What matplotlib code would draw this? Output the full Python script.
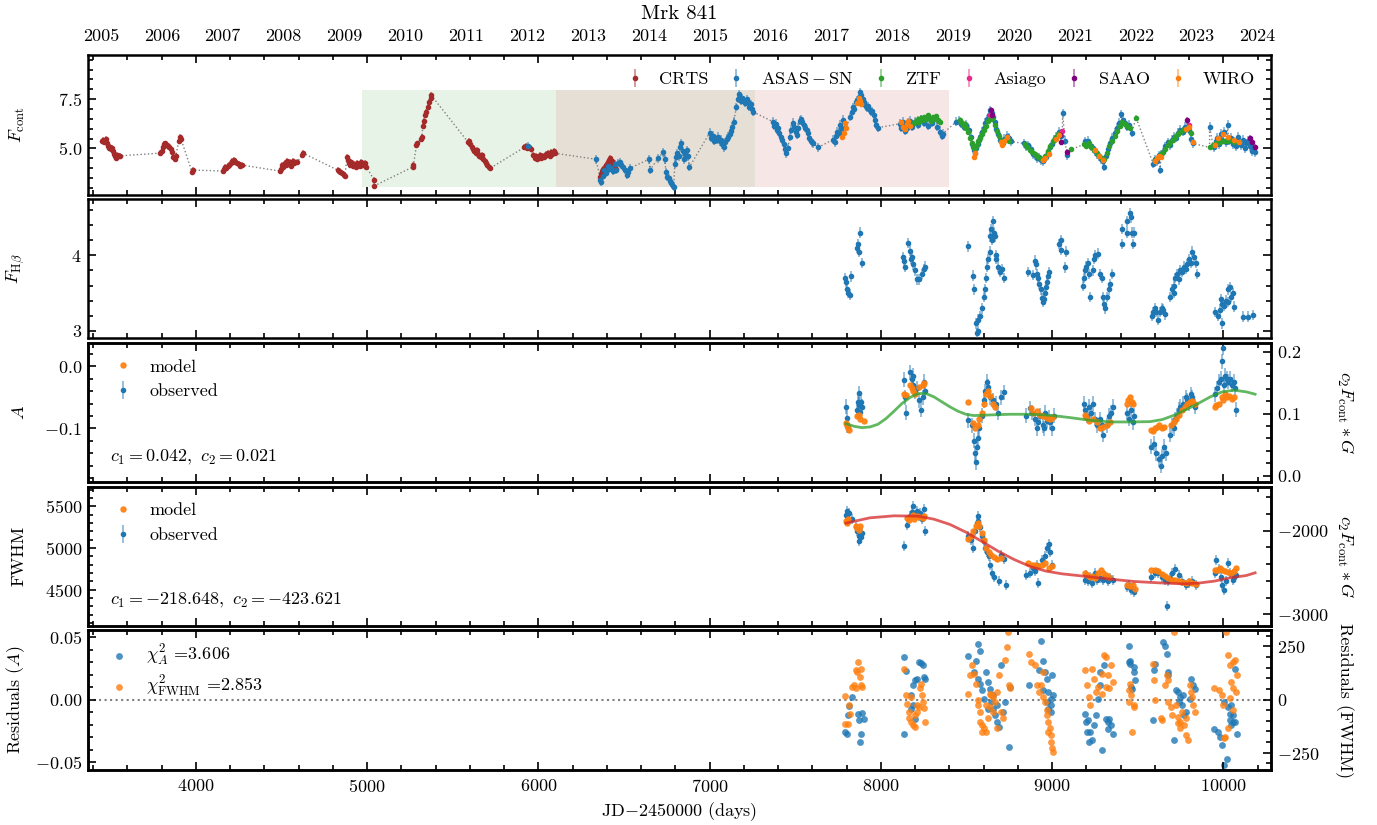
import numpy as np
import matplotlib
matplotlib.use('Agg')
import matplotlib.pyplot as plt
from matplotlib.ticker import MultipleLocator, AutoMinorLocator, FuncFormatter

matplotlib.rcParams['font.family'] = 'serif'
matplotlib.rcParams['font.serif'] = ['cmr10']
matplotlib.rcParams['mathtext.fontset'] = 'cm'
matplotlib.rcParams['axes.formatter.use_mathtext'] = True
matplotlib.rcParams['font.size'] = 13
matplotlib.rcParams['axes.linewidth'] = 1.8

# ---------------- continuum light curve (JD-2450000, F_cont) ----------------
crts = [(3452, 5.35), (3458, 5.45), (3463, 5.30), (3468, 5.40), (3474, 5.50), (3480, 5.25),
        (3486, 5.10), (3492, 5.00), (3498, 5.05), (3504, 4.95), (3510, 5.00), (3516, 4.85),
        (3522, 4.70), (3528, 4.60), (3534, 4.50), (3540, 4.65), (3548, 4.60), (3556, 4.62),
        (3791, 4.76), (3800, 4.85), (3808, 5.05), (3815, 5.20), (3822, 5.25), (3830, 5.15),
        (3838, 5.10), (3845, 5.05), (3852, 4.95), (3860, 4.80), (3868, 4.55), (3875, 4.45),
        (3882, 4.60), (3900, 5.40), (3906, 5.60), (3912, 5.50), (3976, 3.82), (3981, 3.90),
        (4156, 3.85), (4162, 3.95), (4170, 4.05), (4178, 4.00), (4186, 4.10), (4195, 4.15),
        (4205, 4.25), (4213, 4.35), (4222, 4.40), (4230, 4.30), (4240, 4.25), (4250, 4.20),
        (4260, 4.10), (4270, 4.15),
        (4490, 3.85), (4496, 3.95), (4503, 4.15), (4510, 4.05), (4518, 4.25), (4525, 4.15),
        (4533, 4.35), (4540, 4.20), (4548, 4.30), (4556, 4.10), (4565, 4.35), (4575, 4.25),
        (4590, 4.30), (4622, 4.68), (4628, 4.75),
        (4827, 3.90), (4833, 3.85), (4840, 3.80), (4855, 3.75), (4862, 3.65), (4870, 3.60),
        (4882, 4.55), (4886, 4.40), (4892, 4.25), (4900, 4.15), (4908, 4.30), (4916, 4.10),
        (4924, 4.20), (4932, 4.05), (4940, 4.25), (4948, 4.15), (4956, 4.10), (4966, 4.30),
        (4975, 4.15), (4985, 4.25), (4996, 4.05), (5040, 3.40), (5042, 3.10),
        (5265, 4.05), (5270, 4.15), (5288, 5.15), (5292, 5.25), (5315, 5.50), (5320, 5.60),
        (5325, 6.15), (5330, 6.40), (5340, 6.70), (5345, 6.85), (5355, 7.10), (5362, 7.35),
        (5370, 7.55), (5374, 7.70),
        (5591, 5.30), (5596, 5.40), (5602, 5.20), (5610, 5.05), (5618, 4.95), (5625, 4.85),
        (5633, 4.75), (5640, 4.90), (5648, 4.70), (5655, 4.60), (5662, 4.55), (5670, 4.65),
        (5678, 4.45), (5686, 4.35), (5694, 4.25), (5702, 4.15), (5712, 4.05), (5720, 4.00),
        (5917, 5.05), (5925, 5.10), (5933, 5.00), (5945, 5.05), (5955, 4.95),
        (5970, 4.65), (5978, 4.50), (5986, 4.60), (5994, 4.45), (6002, 4.55), (6010, 4.65),
        (6018, 4.50), (6026, 4.60), (6034, 4.55), (6042, 4.70), (6050, 4.65), (6058, 4.75),
        (6066, 4.60), (6074, 4.80), (6082, 4.70), (6090, 4.85), (6098, 4.75),
        (6360, 3.55), (6366, 3.70), (6372, 3.85), (6380, 3.95), (6388, 4.05), (6396, 4.15),
        (6404, 4.30), (6412, 4.40), (6420, 4.50), (6428, 4.35), (6436, 4.20), (6444, 4.10),
        (6452, 3.95)]

asassn = [(5937, 5.10), (6335, 4.45),
          (6360, 3.40), (6368, 3.30), (6375, 3.60), (6385, 3.90), (6395, 3.75), (6405, 4.10),
          (6415, 3.95), (6425, 4.00), (6435, 3.85), (6445, 4.20), (6455, 3.90), (6465, 4.25),
          (6475, 4.30), (6485, 4.15), (6495, 4.05), (6505, 3.90), (6515, 3.65), (6525, 3.80),
          (6535, 4.00),
          (6647, 4.45), (6652, 3.90), (6699, 4.50), (6729, 4.80), (6738, 4.45), (6745, 3.80),
          (6752, 3.55), (6760, 3.50), (6768, 3.35), (6776, 3.25), (6784, 3.10), (6790, 3.05),
          (6797, 4.20), (6805, 4.55), (6812, 4.75), (6820, 4.60), (6828, 5.05), (6835, 5.25),
          (6842, 4.85), (6850, 4.45), (6858, 4.70), (6866, 4.90), (6874, 4.60), (6882, 4.05),
          (7001, 5.80), (7010, 5.55), (7018, 5.65), (7026, 5.40), (7034, 5.50), (7042, 5.45),
          (7050, 5.60), (7058, 5.35), (7066, 5.45), (7075, 5.20), (7083, 5.05), (7091, 5.30),
          (7100, 5.50), (7108, 5.60), (7117, 5.75), (7125, 5.90), (7133, 6.10), (7140, 6.35),
          (7157, 7.10), (7163, 7.50), (7170, 7.75), (7177, 7.60), (7185, 7.40), (7192, 7.55),
          (7200, 7.45), (7208, 7.30), (7216, 7.50), (7224, 7.35), (7232, 7.10), (7240, 7.25),
          (7248, 7.00), (7255, 6.85),
          (7371, 6.35), (7378, 6.15), (7385, 6.25), (7392, 5.95), (7400, 6.05), (7408, 5.80),
          (7416, 5.60), (7424, 5.45), (7432, 5.20), (7440, 4.95), (7448, 4.75), (7456, 5.00),
          (7470, 5.60), (7478, 5.95), (7486, 6.30), (7494, 6.10), (7502, 5.85), (7510, 5.70),
          (7518, 6.05), (7526, 6.40), (7534, 6.50), (7542, 6.35), (7550, 6.20), (7558, 6.05),
          (7566, 5.95), (7574, 5.80), (7582, 5.55), (7590, 5.40), (7598, 5.30), (7606, 5.25),
          (7634, 5.05), (7722, 5.45), (7730, 5.30), (7738, 5.65), (7746, 5.85), (7754, 5.80),
          (7762, 6.20), (7770, 6.05), (7778, 6.45),
          (7822, 6.60), (7830, 6.85), (7838, 7.10), (7846, 7.00), (7854, 7.35), (7862, 7.45),
          (7870, 7.60), (7878, 7.85), (7886, 7.70), (7894, 7.50), (7902, 7.35), (7910, 7.20),
          (7918, 7.05), (7926, 7.15), (7934, 6.95), (7942, 6.85), (7950, 6.90), (7958, 6.70),
          (7966, 6.45), (7974, 6.20), (7982, 6.05),
          (8112, 6.25), (8120, 6.05), (8128, 6.35), (8136, 6.15), (8144, 5.90), (8152, 6.05),
          (8160, 6.30), (8168, 6.40), (8176, 6.20), (8184, 6.10), (8200, 6.35), (8215, 6.20),
          (8235, 6.45), (8255, 6.30), (8275, 6.15), (8300, 6.30), (8330, 6.10), (8345, 5.85),
          (8355, 5.65), (8362, 5.75),
          (8440, 6.35), (8455, 6.40), (8470, 6.25), (8485, 6.10), (8500, 6.20), (8515, 5.95),
          (8525, 5.60), (8535, 5.20), (8542, 4.90), (8550, 4.75), (8558, 5.00), (8566, 5.20),
          (8574, 5.45), (8582, 5.60), (8590, 5.85), (8600, 6.05), (8610, 6.30), (8620, 6.50),
          (8630, 6.70), (8640, 6.95), (8648, 6.80), (8656, 6.60), (8665, 6.35), (8675, 6.00),
          (8685, 5.75), (8695, 5.45), (8705, 5.30), (8720, 5.50), (8735, 5.65), (8750, 5.55),
          (8760, 5.35),
          (8835, 5.25), (8850, 5.10), (8862, 5.15), (8875, 4.95), (8888, 4.70), (8900, 4.65),
          (8912, 4.50), (8925, 4.55), (8938, 4.40), (8950, 4.35), (8962, 4.55), (8975, 4.80),
          (8988, 5.05), (9000, 5.20), (9012, 5.45), (9025, 5.60), (9038, 5.85), (9050, 5.65),
          (9062, 6.80), (9075, 5.40), (9088, 4.65),
          (9190, 5.35), (9200, 5.25), (9212, 5.40), (9225, 5.10), (9238, 5.00), (9250, 4.85),
          (9262, 4.70), (9275, 4.60), (9288, 4.45), (9300, 4.35), (9303, 4.05), (9315, 4.60),
          (9328, 4.95), (9340, 5.25), (9352, 5.55), (9365, 5.80), (9378, 6.05), (9390, 6.30),
          (9403, 6.75), (9415, 6.45), (9428, 6.30), (9440, 6.10), (9452, 6.20), (9465, 5.80),
          (9592, 4.20), (9600, 4.45), (9612, 4.35), (9625, 4.65), (9632, 3.90), (9638, 4.70),
          (9650, 4.80), (9662, 5.10), (9675, 5.30), (9688, 5.15), (9700, 5.45), (9712, 5.60),
          (9725, 5.55), (9738, 5.80), (9750, 5.95), (9762, 5.85), (9775, 6.10), (9788, 6.05),
          (9800, 5.95), (9812, 5.50), (9822, 5.25),
          (9920, 6.10), (9945, 5.05), (9955, 5.35), (9965, 5.55), (9975, 5.20), (9985, 5.75),
          (9995, 5.45), (10005, 5.85), (10015, 5.30), (10025, 6.20), (10035, 5.40), (10045, 5.55),
          (10055, 5.20), (10065, 5.35), (10075, 5.10), (10085, 5.60), (10095, 5.30), (10105, 5.15),
          (10115, 5.45), (10125, 5.00), (10135, 5.25), (10145, 5.40), (10155, 5.10), (10165, 4.85),
          (10175, 5.05), (10185, 4.80)]

ztf = [(8195, 6.30), (8205, 6.40), (8215, 6.50), (8225, 6.35), (8235, 6.55), (8245, 6.45),
       (8255, 6.60), (8265, 6.50), (8275, 6.70), (8285, 6.55), (8295, 6.40), (8305, 6.60),
       (8315, 6.50), (8325, 6.65), (8335, 6.45), (8345, 6.35),
       (8462, 6.45), (8470, 6.35), (8480, 6.20), (8490, 6.25), (8500, 6.05), (8510, 5.85),
       (8520, 5.55), (8530, 5.25), (8540, 5.05), (8550, 4.95), (8560, 5.15), (8570, 5.35),
       (8580, 5.55), (8592, 5.75), (8604, 5.95), (8616, 6.15), (8628, 6.40), (8640, 6.60),
       (8652, 6.50), (8664, 6.20), (8676, 5.90), (8688, 5.65), (8700, 5.40), (8712, 5.25),
       (8725, 5.45), (8738, 5.55), (8750, 5.40),
       (8840, 5.20), (8855, 5.05), (8870, 4.90), (8885, 4.80), (8900, 4.70), (8915, 4.60),
       (8930, 4.50), (8945, 4.45), (8960, 4.60), (8975, 4.85), (8990, 5.10), (9005, 5.35),
       (9020, 5.55), (9035, 5.75), (9050, 5.85), (9113, 4.95),
       (9185, 5.20), (9200, 5.10), (9215, 5.25), (9230, 5.05), (9245, 4.90), (9260, 4.75),
       (9275, 4.60), (9290, 4.50), (9305, 4.45), (9320, 4.75), (9335, 5.10), (9350, 5.40),
       (9365, 5.65), (9380, 5.90), (9395, 6.15), (9410, 6.35), (9425, 6.25), (9440, 6.15),
       (9455, 6.05), (9491, 6.55),
       (9600, 4.40), (9615, 4.50), (9630, 4.60), (9645, 4.75), (9660, 4.95), (9675, 5.15),
       (9690, 5.30), (9705, 5.45), (9720, 5.60), (9735, 5.75), (9750, 5.85), (9765, 5.95),
       (9780, 6.00), (9795, 6.05), (9810, 5.80),
       (9920, 5.05), (9940, 5.15), (9960, 5.25), (9980, 5.30), (10000, 5.40), (10020, 5.35),
       (10040, 5.45), (10060, 5.30)]

asiago = [(8640, 6.70), (9060, 5.90), (9800, 6.20)]

saao = [(8645, 6.95), (8650, 6.70), (9045, 5.70), (9050, 5.30), (9088, 4.80), (9790, 6.45),
        (10155, 5.55), (10170, 5.30), (10185, 5.05)]

wiro = [(7775, 5.60), (7782, 5.80), (7790, 6.30), (7796, 6.05), (7862, 7.30), (7870, 7.55),
        (7876, 7.40), (7884, 7.25),
        (8120, 6.35), (8130, 6.10), (8140, 6.00), (8150, 6.25), (8160, 6.40), (8170, 6.15),
        (8545, 4.55), (8552, 4.75), (8700, 5.30), (8710, 5.15), (8720, 5.40), (8735, 5.60),
        (8950, 4.40), (8960, 4.50), (8980, 4.70), (9025, 5.50), (9040, 5.70),
        (9250, 4.90), (9275, 4.60), (9300, 4.40),
        (9600, 4.35), (9612, 4.50), (9625, 4.60), (9635, 4.55), (9780, 6.00), (9800, 6.10),
        (9822, 5.30),
        (9950, 5.15), (9970, 5.55), (10000, 5.75), (10030, 5.60), (10060, 5.45), (10090, 5.30)]

flux_err = {'CRTS': 0.15, 'ASAS-SN': 0.22, 'ZTF': 0.12, 'Asiago': 0.10, 'SAAO': 0.15, 'WIRO': 0.10}

# observing seasons shaded in the top panel
season_edges = [4971, 6105, 7267, 8401]

# ---------------- H-beta flux ----------------
hbeta = [(7790, 3.70), (7795, 3.65), (7805, 3.55), (7810, 3.50), (7818, 3.48), (7825, 3.72),
         (7858, 4.10), (7865, 4.15), (7870, 4.05), (7878, 4.30), (7890, 3.90),
         (8131, 3.98), (8135, 3.92), (8140, 3.85), (8160, 4.16), (8170, 4.06), (8175, 3.95),
         (8180, 3.98), (8190, 3.88), (8200, 3.80), (8210, 3.68), (8225, 3.68), (8240, 3.75),
         (8250, 3.82), (8258, 3.85),
         (8511, 4.12), (8540, 3.73), (8545, 3.55), (8555, 3.10), (8560, 2.97), (8565, 3.00),
         (8570, 3.15), (8580, 3.20), (8590, 3.30), (8600, 3.45), (8610, 3.55), (8615, 3.70),
         (8620, 3.85), (8625, 3.95), (8635, 4.05), (8640, 4.25), (8645, 4.35), (8650, 4.20),
         (8655, 4.45), (8660, 4.30), (8665, 4.25), (8670, 4.00), (8675, 3.95), (8685, 3.85),
         (8695, 3.78), (8705, 3.82), (8720, 3.70),
         (8862, 3.78), (8890, 3.74), (8900, 3.93), (8905, 3.88), (8915, 3.75), (8920, 3.70),
         (8925, 3.62), (8935, 3.55), (8940, 3.43), (8950, 3.38), (8955, 3.42), (8960, 3.50),
         (8965, 3.58), (8970, 3.65), (8975, 3.72), (8980, 3.78),
         (9040, 4.15), (9050, 4.20), (9055, 4.07), (9075, 3.84), (9080, 4.05),
         (9183, 3.60), (9185, 3.70), (9195, 3.80), (9200, 3.85), (9210, 3.90), (9215, 3.75),
         (9222, 3.45), (9240, 3.80), (9245, 3.95), (9250, 4.00), (9270, 4.02), (9280, 3.75),
         (9290, 3.70), (9300, 3.45), (9305, 3.35), (9310, 3.30), (9320, 3.45), (9330, 3.55),
         (9340, 3.62), (9350, 3.75),
         (9407, 4.15), (9410, 4.35), (9435, 4.30), (9440, 4.45), (9455, 4.56), (9460, 4.50),
         (9465, 4.30), (9470, 4.15), (9480, 4.30),
         (9582, 3.20), (9590, 3.25), (9600, 3.30), (9610, 3.25), (9620, 3.15), (9630, 3.25),
         (9640, 3.30), (9650, 3.28), (9660, 3.22),
         (9690, 3.45), (9700, 3.55), (9710, 3.60), (9715, 3.50), (9720, 3.70), (9730, 3.75),
         (9740, 3.68), (9745, 3.80), (9760, 3.78), (9770, 3.85), (9780, 3.82), (9790, 3.88),
         (9800, 3.95), (9810, 3.90), (9820, 4.05), (9830, 3.98), (9840, 3.90), (9845, 3.75),
         (9952, 3.25), (9970, 3.20), (9980, 3.28), (9985, 3.42), (9990, 3.35), (9995, 3.10),
         (10005, 3.33), (10015, 3.40), (10025, 3.38), (10030, 3.55), (10040, 3.58), (10045, 3.45),
         (10055, 3.50), (10065, 3.32), (10118, 3.19), (10147, 3.19), (10176, 3.21)]
hbeta_err = 0.07

# ---------------- line shape parameter A ----------------
a_obs = [(7796, -0.065), (7800, -0.083), (7805, -0.096), (7860, -0.070), (7865, -0.058),
         (7871, -0.043), (7875, -0.062), (7880, -0.074), (7885, -0.057), (7890, -0.065),
         (8135, -0.022), (8140, -0.050), (8145, -0.075), (8170, -0.010), (8180, -0.020),
         (8185, -0.030), (8190, -0.015), (8200, -0.040), (8210, -0.035), (8225, -0.055),
         (8235, -0.070), (8245, -0.050), (8250, -0.025), (8258, -0.040),
         (8509, -0.087), (8530, -0.095), (8545, -0.120), (8550, -0.140), (8555, -0.155),
         (8560, -0.130), (8565, -0.115), (8575, -0.100), (8590, -0.080), (8600, -0.055),
         (8610, -0.040), (8620, -0.025), (8625, -0.033), (8640, -0.050), (8655, -0.055),
         (8670, -0.060), (8685, -0.075), (8700, -0.050), (8720, -0.042),
         (8850, -0.080), (8870, -0.068), (8880, -0.075), (8900, -0.085), (8910, -0.100),
         (8920, -0.090), (8930, -0.080), (8945, -0.095), (8955, -0.100), (8960, -0.075),
         (8970, -0.088), (8980, -0.083), (8990, -0.090), (9000, -0.100), (9010, -0.080),
         (9187, -0.060), (9195, -0.070), (9205, -0.080), (9215, -0.065), (9225, -0.075),
         (9240, -0.060), (9250, -0.085), (9265, -0.095), (9280, -0.085), (9290, -0.095),
         (9300, -0.110), (9320, -0.095), (9335, -0.080), (9345, -0.075), (9355, -0.065),
         (9440, -0.075), (9450, -0.085), (9460, -0.070), (9470, -0.090), (9480, -0.080),
         (9580, -0.130), (9595, -0.125), (9610, -0.140), (9625, -0.150), (9635, -0.160),
         (9645, -0.145), (9655, -0.130), (9665, -0.140),
         (9690, -0.110), (9700, -0.095), (9710, -0.100), (9720, -0.085), (9730, -0.080),
         (9740, -0.070), (9750, -0.065), (9765, -0.060), (9780, -0.050), (9790, -0.055),
         (9800, -0.060), (9810, -0.045), (9820, -0.050), (9835, -0.065),
         (9950, -0.045), (9965, -0.035), (9975, -0.025), (9985, -0.020), (9995, 0.008),
         (9998, 0.030), (10005, -0.030), (10010, -0.015), (10020, -0.020), (10030, -0.025),
         (10040, -0.020), (10050, -0.030), (10060, -0.025), (10070, -0.035), (10075, -0.070)]
a_err = 0.012

a_model = [(7796, -0.092), (7800, -0.095), (7806, -0.100), (7812, -0.103), (7862, -0.080),
           (7870, -0.078), (7878, -0.085), (7900, -0.088),
           (8135, -0.045), (8145, -0.047), (8170, -0.030), (8180, -0.035), (8190, -0.040),
           (8200, -0.045), (8220, -0.033), (8245, -0.030), (8255, -0.027),
           (8510, -0.057), (8540, -0.092), (8550, -0.100), (8565, -0.095), (8575, -0.085),
           (8590, -0.075), (8605, -0.060), (8615, -0.045), (8625, -0.040), (8640, -0.048),
           (8655, -0.060), (8665, -0.065),
           (8875, -0.068), (8890, -0.075), (8910, -0.072), (8930, -0.078), (8950, -0.080),
           (8970, -0.083), (8990, -0.085), (9005, -0.082),
           (9190, -0.078), (9200, -0.082), (9215, -0.088), (9240, -0.085), (9260, -0.090),
           (9280, -0.100), (9300, -0.098), (9320, -0.095), (9340, -0.090),
           (9435, -0.060), (9445, -0.055), (9455, -0.050), (9465, -0.057), (9475, -0.060),
           (9580, -0.103), (9590, -0.105), (9600, -0.100), (9615, -0.098), (9625, -0.095),
           (9640, -0.100), (9655, -0.098),
           (9695, -0.095), (9710, -0.090), (9725, -0.085), (9740, -0.078), (9760, -0.070),
           (9775, -0.065), (9790, -0.060), (9805, -0.058), (9820, -0.056), (9835, -0.060),
           (9950, -0.065), (9960, -0.063), (9975, -0.060), (9990, -0.050), (10000, -0.055),
           (10010, -0.045), (10020, -0.050), (10035, -0.048), (10050, -0.052), (10065, -0.050)]

# c2 * F_cont * G term for A (right axis)
a_term = [(7796, 0.0839), (7843, 0.0796), (7890, 0.0774), (7936, 0.0785), (7983, 0.0828),
          (8030, 0.0920), (8077, 0.1039), (8123, 0.1163), (8170, 0.1260), (8217, 0.1325),
          (8264, 0.1325), (8310, 0.1271), (8357, 0.1190), (8404, 0.1109), (8451, 0.1039),
          (8497, 0.0990), (8544, 0.0969), (8638, 0.0979), (8755, 0.0990), (8872, 0.0990),
          (8988, 0.0974), (9105, 0.0936), (9222, 0.0893), (9339, 0.0866), (9456, 0.0866),
          (9573, 0.0871), (9643, 0.0904), (9713, 0.0974), (9783, 0.1066), (9853, 0.1163),
          (9924, 0.1271), (9994, 0.1352), (10064, 0.1379), (10134, 0.1352), (10186, 0.1314)]

# ---------------- FWHM ----------------
fwhm_obs = [(7796, 5400), (7800, 5450), (7805, 5380), (7810, 5330), (7815, 5420), (7830, 5350),
            (7855, 5250), (7862, 5200), (7870, 5150), (7875, 5080), (7882, 5130), (7890, 5180),
            (8135, 5030), (8150, 5280), (8170, 5380), (8180, 5430), (8190, 5500), (8200, 5400),
            (8210, 5450), (8220, 5380), (8230, 5420), (8240, 5350), (8250, 5470), (8260, 5200),
            (8510, 5150), (8525, 5100), (8540, 5000), (8550, 5200), (8560, 5300), (8565, 5380),
            (8570, 5330), (8580, 5250), (8590, 5150), (8600, 5080), (8610, 5000), (8620, 4950),
            (8630, 4900), (8640, 4800), (8650, 4700), (8660, 4650), (8690, 4600), (8700, 4920),
            (8720, 4870), (8730, 4550),
            (8850, 4680), (8870, 4700), (8890, 4760), (8900, 4720), (8910, 4800), (8920, 4580),
            (8940, 4850), (8960, 4900), (8970, 5000), (8980, 5050), (8990, 4950), (9000, 4800),
            (9190, 4620), (9200, 4680), (9210, 4600), (9220, 4650), (9235, 4580), (9250, 4700),
            (9265, 4610), (9280, 4640), (9295, 4620), (9310, 4660), (9325, 4600), (9340, 4640),
            (9355, 4620),
            (9440, 4530), (9450, 4550), (9460, 4500), (9470, 4520), (9480, 4470),
            (9580, 4650), (9600, 4700), (9620, 4700), (9640, 4650), (9660, 4620), (9670, 4300),
            (9680, 4600), (9690, 4640), (9700, 4700), (9720, 4750), (9740, 4680), (9760, 4600),
            (9780, 4550), (9800, 4580), (9820, 4600), (9840, 4560),
            (9950, 4700), (9960, 4850), (9975, 4750), (9985, 4650), (9995, 4550), (10005, 4500),
            (10015, 4600), (10030, 4820), (10040, 4700), (10055, 4620), (10065, 4650),
            (10075, 4680)]
fwhm_err = 60

fwhm_model = [(7796, 5320), (7802, 5300), (7808, 5350), (7855, 5270), (7862, 5240), (7870, 5220),
              (7880, 5260),
              (8150, 5360), (8165, 5340), (8175, 5370), (8185, 5400), (8195, 5350), (8210, 5390),
              (8225, 5370), (8245, 5360), (8255, 5380),
              (8509, 5110), (8525, 5150), (8540, 5200), (8555, 5270), (8565, 5300), (8575, 5260),
              (8590, 5180), (8600, 5100), (8615, 5000), (8630, 4950), (8645, 4920), (8660, 4890),
              (8680, 4870), (8700, 4880),
              (8860, 4820), (8880, 4800), (8900, 4790), (8920, 4780), (8940, 4800), (8960, 4820),
              (8980, 4760), (9000, 4780),
              (9190, 4700), (9205, 4670), (9220, 4650), (9235, 4660), (9250, 4640), (9270, 4700),
              (9285, 4730), (9300, 4700), (9315, 4680), (9330, 4650),
              (9440, 4560), (9455, 4540), (9470, 4550), (9485, 4510),
              (9580, 4730), (9600, 4740), (9620, 4720), (9640, 4690), (9660, 4660), (9680, 4640),
              (9700, 4620), (9720, 4610), (9740, 4600), (9760, 4590), (9780, 4580), (9800, 4600),
              (9820, 4580), (9840, 4570),
              (9950, 4730), (9965, 4740), (9980, 4760), (9995, 4730), (10010, 4720), (10030, 4710),
              (10045, 4700), (10060, 4720), (10075, 4760)]

# c2 * F_cont * G term for FWHM (right axis)
fwhm_term = [(7796, -1912), (7936, -1849), (8077, -1825), (8217, -1829), (8310, -1865),
             (8404, -1928), (8497, -2020), (8591, -2131), (8685, -2246), (8778, -2345),
             (8872, -2428), (8965, -2484), (9059, -2516), (9199, -2547), (9339, -2579),
             (9479, -2607), (9620, -2623), (9760, -2635), (9853, -2627), (9947, -2603),
             (10041, -2563), (10134, -2536), (10186, -2504)]

# ---------------- residuals ----------------
res_a = [(7793, -0.0259), (7800, -0.0272), (7807, -0.0120), (7815, -0.0054), (7833, 0.0021),
         (7867, -0.0112), (7873, -0.0166), (7878, -0.0339), (7884, -0.0272), (7889, -0.0104),
         (7900, -0.0158),
         (8134, -0.0272), (8138, 0.0341), (8145, 0.0226), (8178, -0.0072), (8178, 0.0035),
         (8189, 0.0120), (8189, -0.0046), (8200, 0.0154), (8200, -0.0158), (8212, 0.0168),
         (8223, 0.0301), (8234, 0.0296), (8245, 0.0274), (8252, 0.0181), (8256, 0.0168),
         (8512, 0.0354), (8546, 0.0221), (8557, 0.0314), (8568, 0.0448), (8568, 0.0168),
         (8579, 0.0394), (8579, 0.0128), (8590, 0.0074), (8601, 0.0008), (8612, 0.0221),
         (8623, 0.0141), (8623, -0.0072), (8635, 0.0088), (8646, -0.0019), (8657, -0.0072),
         (8657, 0.0035), (8668, -0.0126), (8679, -0.0179), (8679, -0.0046), (8690, -0.0219),
         (8701, 0.0274), (8712, -0.0099), (8724, -0.0019), (8746, -0.0379), (8757, 0.0101),
         (8868, 0.0115), (8924, 0.0234), (8935, 0.0474), (8946, 0.0314), (8946, 0.0074),
         (8957, 0.0221), (8968, 0.0168), (8968, -0.0019), (8979, 0.0061), (8979, -0.0072),
         (8991, 0.0008), (8991, -0.0099), (8995, -0.0046), (9002, 0.0194), (9008, 0.0035),
         (9191, -0.0112), (9198, -0.0179), (9202, -0.0259), (9209, -0.0166), (9213, -0.0339),
         (9224, -0.0259), (9235, -0.0326), (9246, -0.0206), (9258, -0.0126), (9269, 0.0008),
         (9280, 0.0221), (9280, 0.0115), (9291, -0.0406), (9302, 0.0274), (9313, -0.0152),
         (9324, -0.0179), (9324, -0.0232), (9335, -0.0152), (9347, -0.0206), (9358, -0.0272),
         (9447, 0.0434), (9447, 0.0301), (9453, 0.0314), (9458, 0.0288), (9463, 0.0101),
         (9469, 0.0088), (9476, 0.0221), (9480, 0.0261), (9487, 0.0154),
         (9592, -0.0166), (9596, 0.0234), (9603, 0.0288), (9647, 0.0461), (9658, 0.0434),
         (9669, 0.0368), (9676, 0.0221), (9680, 0.0194), (9714, -0.0326), (9725, 0.0074),
         (9736, 0.0061), (9743, -0.0019), (9747, 0.0021), (9758, -0.0046), (9765, 0.0035),
         (9769, -0.0126), (9781, -0.0099), (9803, 0.0008), (9814, 0.0168), (9825, 0.0115),
         (9832, 0.0088),
         (9948, -0.0232), (9970, -0.0259), (9981, -0.0299), (9992, -0.0366), (10003, -0.0526),
         (10003, -0.0019), (10019, -0.0473), (10026, -0.0059), (10037, -0.0112), (10041, -0.0166),
         (10048, -0.0206), (10048, -0.0046), (10059, -0.0126), (10059, -0.0179), (10070, -0.0179),
         (10070, 0.0248), (10081, -0.0272)]

res_fwhm = [(7789, 17), (7793, -113), (7807, -113), (7815, -27), (7822, -66), (7829, 59),
            (7844, 67), (7855, 137), (7855, 52), (7862, 130), (7867, 176), (7878, 106),
            (7882, 67), (7884, 145), (7889, 59),
            (8134, 145), (8145, 20), (8152, -19), (8163, -58), (8167, -89), (8178, -105),
            (8178, 12), (8189, -120), (8200, -128), (8200, -73), (8212, -58), (8212, -27),
            (8223, -34), (8230, 52), (8234, 75), (8239, 20), (8245, -11), (8252, -42),
            (8256, -105),
            (8512, 28), (8523, 114), (8535, 161), (8546, 122), (8557, 75), (8568, -3),
            (8568, -27), (8579, -58), (8579, -105), (8590, -120), (8590, -152), (8601, -136),
            (8612, -152), (8612, -27), (8623, -89), (8635, 28), (8635, -34), (8646, 20),
            (8657, 12), (8657, -58), (8668, -11), (8679, 36), (8679, -136), (8690, 114),
            (8701, -58), (8712, -89), (8724, 184), (8735, 247), (8741, 317), (8746, 67),
            (8757, 52),
            (8868, 216), (8879, 176), (8901, 161), (8913, 67), (8924, 36), (8935, 67),
            (8946, 12), (8946, 130), (8957, -11), (8968, -73), (8968, -50), (8979, -105),
            (8979, -152), (8986, -136), (8991, -167), (8995, -198), (9000, -230), (9004, -245),
            (9191, 137), (9202, 67), (9213, 12), (9224, -27), (9235, 145), (9246, 98),
            (9258, 36), (9269, 59), (9291, 122), (9291, 28), (9302, 208), (9313, 200),
            (9313, 59), (9324, 114), (9335, 52), (9347, 161), (9358, 83),
            (9447, -11), (9451, 44), (9458, 75), (9463, 20), (9469, -152), (9476, -27),
            (9480, -34),
            (9592, 169), (9596, 90), (9603, -3), (9636, -89), (9643, -97), (9658, 67),
            (9669, 114), (9676, 90), (9680, -11), (9692, -34), (9703, -73), (9714, 317),
            (9725, -27), (9736, -81), (9736, -112), (9747, -105), (9747, -136), (9758, -58),
            (9769, -120), (9781, -167), (9781, -89), (9792, -191), (9803, 67), (9810, 36),
            (9818, 12), (9825, -27), (9832, -58),
            (9948, 52), (9973, 44), (9992, 20), (9999, -27), (10003, -183), (10010, -175),
            (10014, 317), (10026, 208), (10026, -136), (10037, 161), (10037, 5), (10048, 83),
            (10055, 52), (10059, 176), (10059, -50), (10070, 184), (10077, 36), (10081, 114)]

chi2_a = 3.606
chi2_fwhm = 2.853
c_a = (0.042, 0.021)
c_fwhm = (-218.648, -423.621)

# year axis limits for the top of the figure
year_lim = (2004.791, 2024.216)
jd_lim = (3371, 10277)


def arr(pairs):
    d = np.array(pairs, dtype=float)
    return d[:, 0], d[:, 1]


def obs_errorbar(ax, pairs, err, color, label=None, ms=3.0):
    x, y = arr(pairs)
    eb = ax.errorbar(x, y, yerr=err, fmt='o', ms=ms, color=color, ecolor=color,
                     elinewidth=1.2, capsize=0, label=label, zorder=3)
    for lc in eb[2]:
        lc.set_alpha(0.55)
    return eb


def style_axis(ax, right=True):
    ax.set_xlim(*jd_lim)
    ax.xaxis.set_major_locator(MultipleLocator(1000))
    ax.xaxis.set_minor_locator(AutoMinorLocator(5))
    ax.yaxis.set_minor_locator(AutoMinorLocator())
    ax.tick_params(which='both', direction='in', top=True, right=right, width=1.2)
    ax.tick_params(which='major', length=6)
    ax.tick_params(which='minor', length=3.5)
    ax.tick_params(axis='x', pad=5.5)
    ax.tick_params(axis='y', pad=4.5)


def style_twin(ax):
    ax.yaxis.set_minor_locator(AutoMinorLocator())
    ax.tick_params(which='both', direction='in', width=1.2, pad=4.5)
    ax.tick_params(which='major', length=6)
    ax.tick_params(which='minor', length=3.5)


fig = plt.figure(figsize=(13.77, 8.25), dpi=100)
gs = fig.add_gridspec(5, 1, left=0.0641, right=0.9228, top=0.9333, bottom=0.0667, hspace=0.03)
axes = [fig.add_subplot(gs[i]) for i in range(5)]
for a in axes[1:]:
    a.sharex(axes[0])
ax1, ax2, ax3, ax4, ax5 = axes

# ---- panel 1: continuum ----
shade = ['#e8f3e8', '#e6dfd6', '#f7e6e6']
for i in range(3):
    ax1.fill_between([season_edges[i], season_edges[i + 1]], 3.05, 7.95,
                     color=shade[i], lw=0, zorder=0)

all_pts = np.array(crts + asassn + ztf + asiago + saao + wiro, dtype=float)
order = np.argsort(all_pts[:, 0])
ax1.plot(all_pts[order, 0], all_pts[order, 1], ls=':', color='gray', lw=1, zorder=1)

obs_errorbar(ax1, crts, flux_err['CRTS'], 'brown', 'CRTS')
obs_errorbar(ax1, asassn, flux_err['ASAS-SN'], 'tab:blue', r'$\rm ASAS-SN$')
obs_errorbar(ax1, ztf, flux_err['ZTF'], 'tab:green', 'ZTF')
obs_errorbar(ax1, asiago, flux_err['Asiago'], '#e7298a', 'Asiago')
obs_errorbar(ax1, saao, flux_err['SAAO'], 'purple', 'SAAO')
obs_errorbar(ax1, wiro, flux_err['WIRO'], 'tab:orange', 'WIRO')

ax1.set_ylim(2.65, 9.74)
ax1.yaxis.set_major_locator(MultipleLocator(2.5))
ax1.set_ylabel(r'$F_{\rm cont}$')
ax1.legend(ncol=6, loc='upper right', frameon=False, handlelength=1.0,
           handletextpad=0.85, columnspacing=1.05, fontsize=13)

top = ax1.twiny()
top.set_xlim(*year_lim)
top.xaxis.set_major_locator(MultipleLocator(1))
top.xaxis.set_major_formatter(FuncFormatter(lambda v, p: '%d' % int(round(v))))
top.tick_params(axis='x', length=0, pad=8)
for s in top.spines.values():
    s.set_visible(False)

# ---- panel 2: H-beta ----
obs_errorbar(ax2, hbeta, hbeta_err, 'tab:blue')
ax2.set_ylim(2.90, 4.746)
ax2.yaxis.set_major_locator(MultipleLocator(1))
ax2.set_ylabel(r'$F_{{\rm H}\beta}$')

# ---- panel 3: A ----
ax3.plot(*arr(a_model), 'o', ms=3.6, color='tab:orange', alpha=0.9, label='model', zorder=4)
obs_errorbar(ax3, a_obs, a_err, 'tab:blue', 'observed')
ax3.set_ylim(-0.187, 0.038)
ax3.yaxis.set_major_locator(MultipleLocator(0.1))
ax3.set_ylabel(r'$A$')
ax3.legend(loc='upper left', frameon=False, handlelength=2.0, handletextpad=0.5, fontsize=13)
ax3.text(0.018, 0.18, r'$c_1=%.3f,\ c_2=%.3f$' % c_a, transform=ax3.transAxes,
         va='center', ha='left', fontsize=13)
ax3r = ax3.twinx()
ax3r.plot(*arr(a_term), color='tab:green', lw=2, alpha=0.75)
ax3r.set_ylim(-0.0109, 0.2146)
ax3r.yaxis.set_major_locator(MultipleLocator(0.1))
style_twin(ax3r)
ax3r.set_ylabel(r'$c_2F_{\rm cont}*G$', rotation=270, va='bottom')

# ---- panel 4: FWHM ----
ax4.plot(*arr(fwhm_model), 'o', ms=3.6, color='tab:orange', alpha=0.9, label='model', zorder=4)
obs_errorbar(ax4, fwhm_obs, fwhm_err, 'tab:blue', 'observed')
ax4.set_ylim(4061, 5739)
ax4.yaxis.set_major_locator(MultipleLocator(500))
ax4.set_ylabel('FWHM')
ax4.legend(loc='upper left', frameon=False, handlelength=2.0, handletextpad=0.5, fontsize=13)
ax4.text(0.018, 0.186, r'$c_1=%.3f,\ c_2=%.3f$' % c_fwhm, transform=ax4.transAxes,
         va='center', ha='left', fontsize=13)
ax4r = ax4.twinx()
ax4r.plot(*arr(fwhm_term), color='tab:red', lw=2, alpha=0.75)
ax4r.set_ylim(-3139, -1476)
ax4r.yaxis.set_major_locator(MultipleLocator(1000))
style_twin(ax4r)
ax4r.set_ylabel(r'$c_2F_{\rm cont}*G$', rotation=270, va='bottom')

# ---- panel 5: residuals ----
ax5.axhline(0, ls=':', color='gray', lw=1.5, zorder=1)
ax5.scatter(*arr(res_a), s=24, color='tab:blue', alpha=0.8, lw=0,
            label=r'$\chi^2_{A}$ =%.3f' % chi2_a)
ax5.scatter([], [], s=24, color='tab:orange', alpha=0.8, lw=0,
            label=r'$\chi^2_{\rm FWHM}$ =%.3f' % chi2_fwhm)
ax5.set_ylim(-0.0564, 0.0556)
ax5.yaxis.set_major_locator(MultipleLocator(0.05))
ax5.set_ylabel(r'Residuals ($A$)')
ax5.legend(loc='upper left', frameon=False, handletextpad=0.5, fontsize=13,
           labelspacing=0.3, borderaxespad=0.3)
ax5r = ax5.twinx()
ax5r.scatter(*arr(res_fwhm), s=24, color='tab:orange', alpha=0.8, lw=0)
ax5r.set_ylim(-331, 325)
ax5r.yaxis.set_major_locator(MultipleLocator(250))
style_twin(ax5r)
ax5r.set_ylabel('Residuals (FWHM)', rotation=270, va='bottom')
ax5.set_xlabel(r'JD$-$2450000 (days)')

for i, a in enumerate(axes):
    style_axis(a, right=(i < 2))
    if i < 4:
        a.tick_params(axis='x', labelbottom=False)
    a.yaxis.set_label_coords(-0.052, 0.5)
for a in (ax3r, ax4r, ax5r):
    a.yaxis.set_label_coords(1.054, 0.5)
ax1.set_ylim(2.65, 9.74)

fig.text(0.4935, 0.983, 'Mrk 841', ha='center', va='center', fontsize=15)

fig.savefig('out.png', dpi=100)
